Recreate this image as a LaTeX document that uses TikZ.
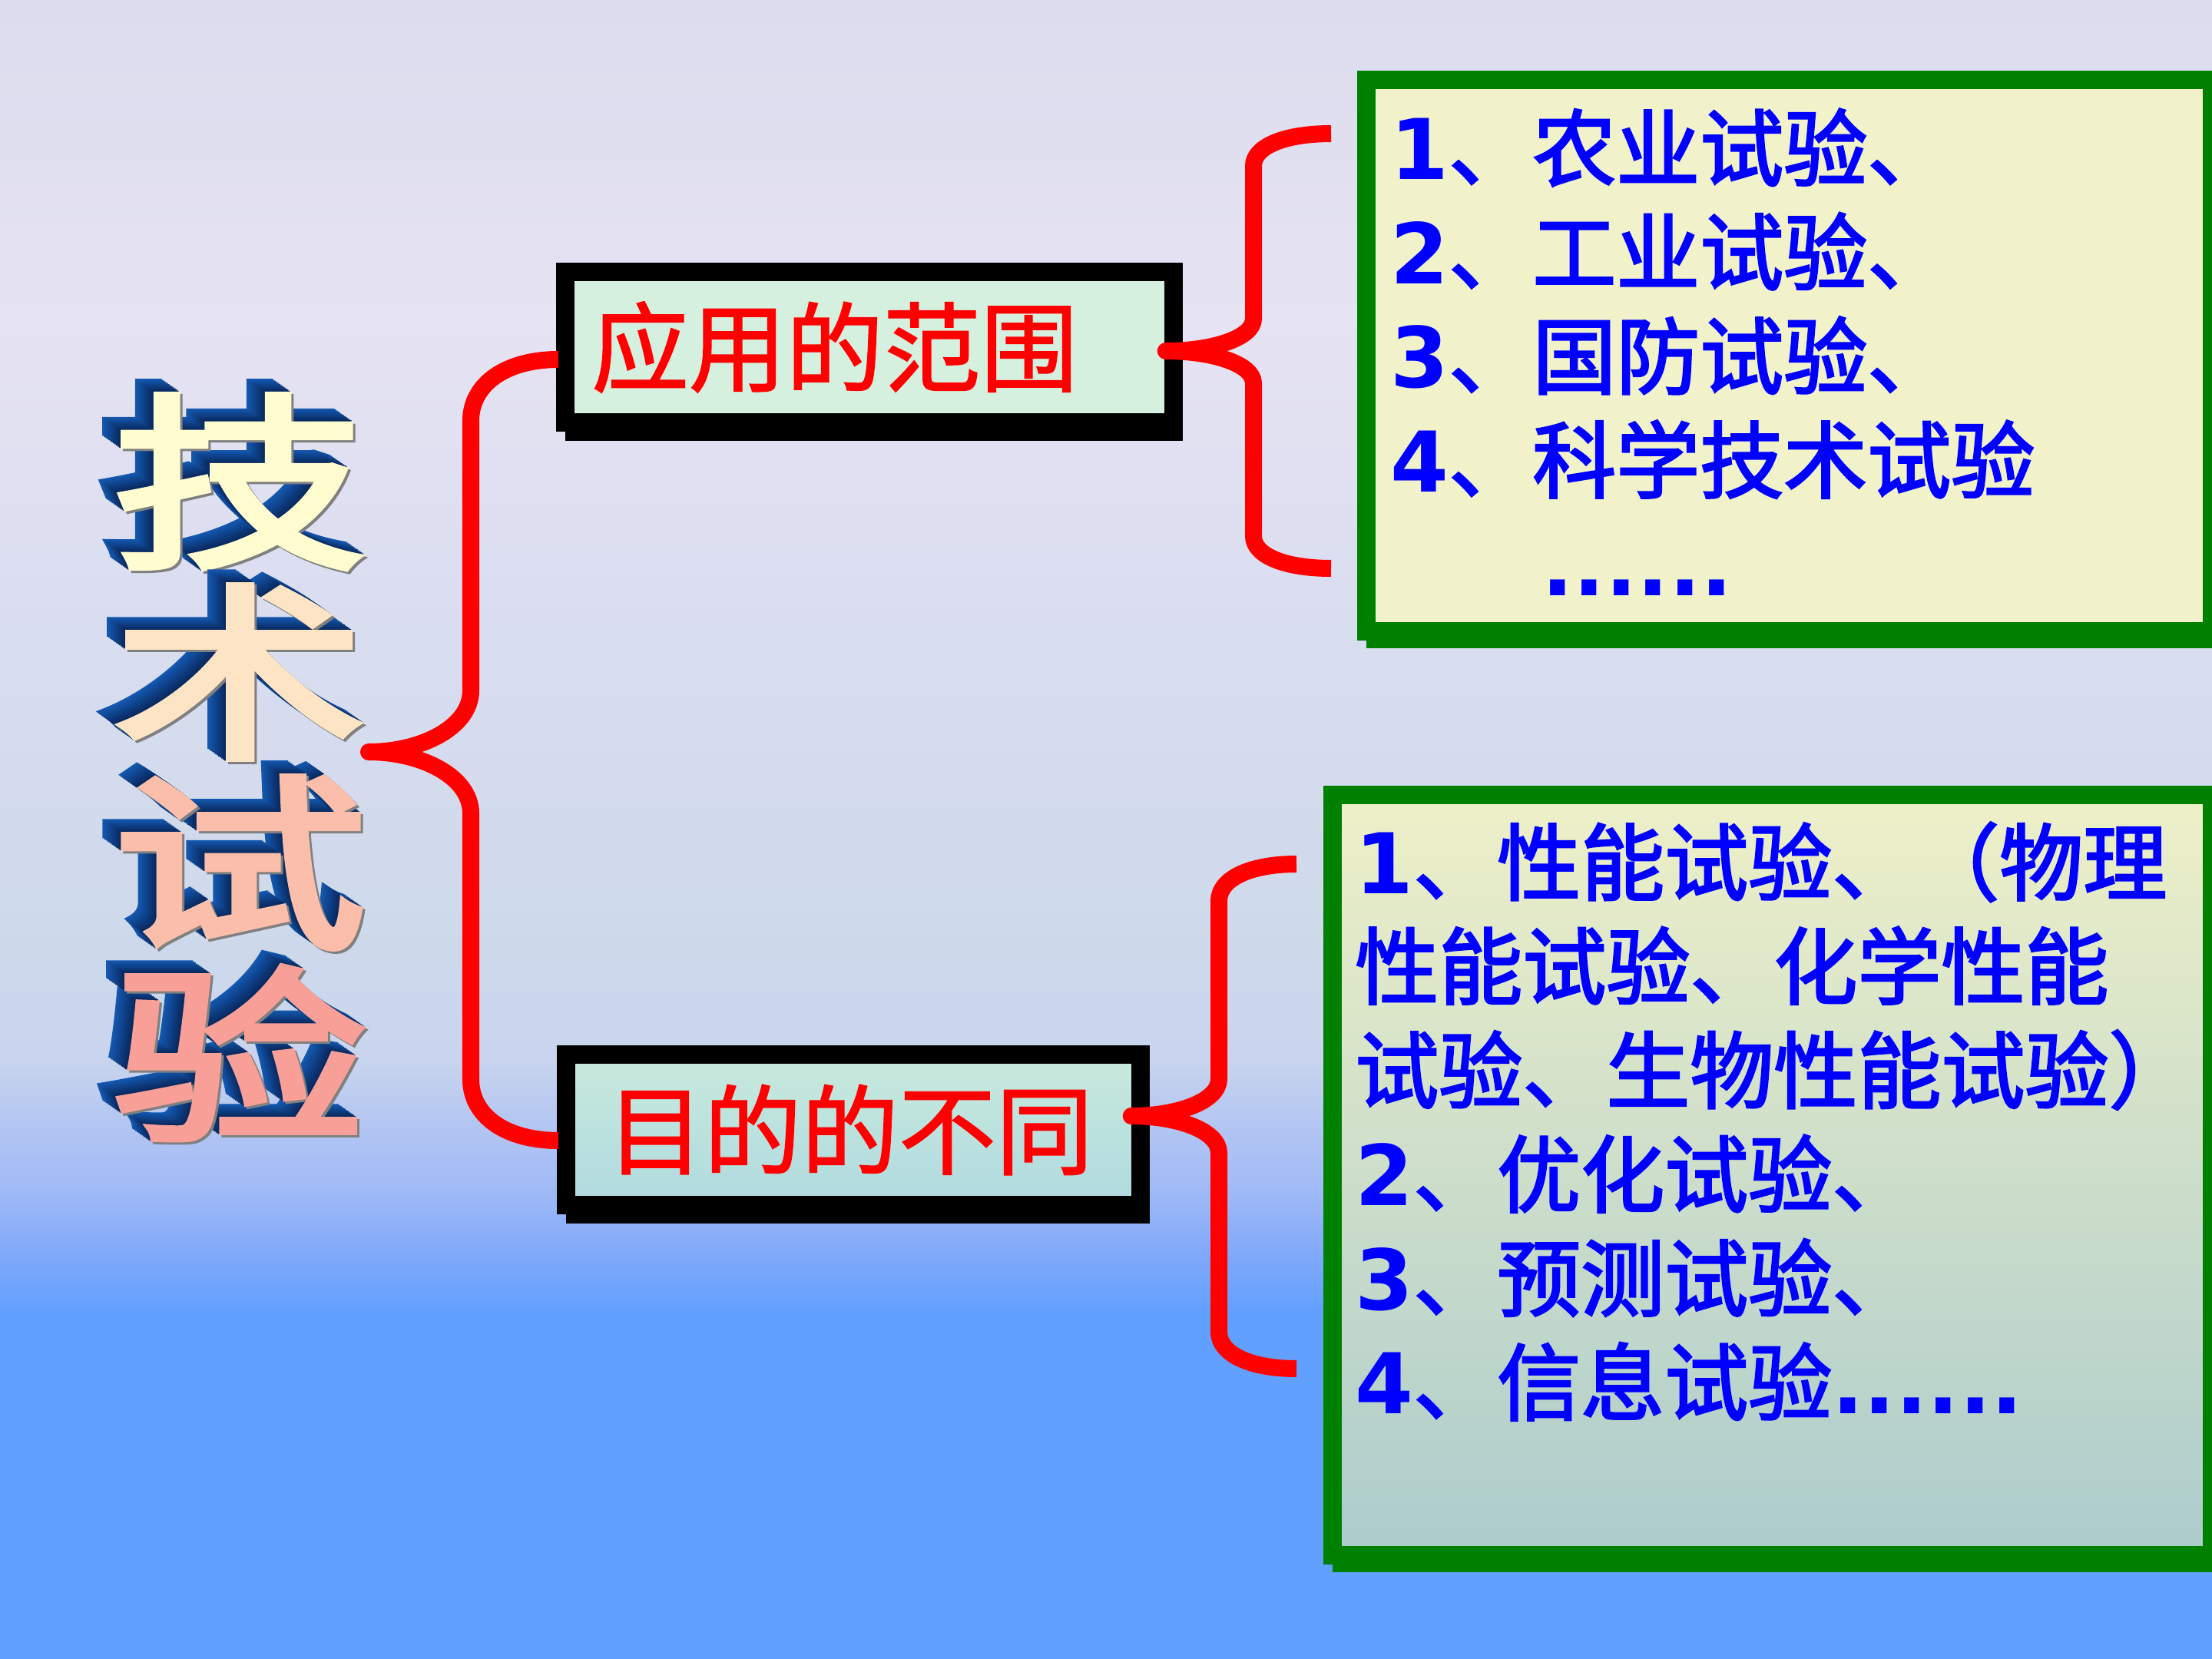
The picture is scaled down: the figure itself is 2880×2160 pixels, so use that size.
\documentclass[tikz,border=0pt]{standalone}
\usepackage{fontspec}
\setmainfont{Noto Sans CJK SC}
\newfontfamily\vbfont{DejaVu Sans}
\newfontfamily\cjkmid{Noto Sans CJK SC}[FakeBold=2.5]
\newfontfamily\cjkred{Noto Sans CJK SC}[FakeBold=1.5]
\newfontfamily\cjktitle{Noto Sans CJK SC}[FakeBold=3]
\usetikzlibrary{calc}
\definecolor{BraceRed}{RGB}{255,0,0}
\definecolor{FrameGreen}{RGB}{0,128,0}
\definecolor{ListBlue}{RGB}{0,0,255}
\definecolor{RangeFill}{RGB}{214,240,224}
\definecolor{AimTop}{RGB}{200,234,220}
\definecolor{AimBot}{RGB}{176,218,224}
\definecolor{FieldFill}{RGB}{241,241,202}
\definecolor{ListTop}{RGB}{238,240,200}
\definecolor{ListBot}{RGB}{172,204,204}
\definecolor{ExtBack}{RGB}{20,88,176}
\definecolor{ExtFront}{RGB}{8,38,90}
\definecolor{FaceOne}{RGB}{255,252,208}
\definecolor{FaceTwo}{RGB}{253,228,196}
\definecolor{FaceThree}{RGB}{250,190,170}
\definecolor{FaceFour}{RGB}{248,160,152}
\definecolor{BgTop}{RGB}{219,220,238}
\definecolor{BgA}{RGB}{230,227,243}
\definecolor{BgB}{RGB}{217,221,240}
\definecolor{BgC}{RGB}{205,217,234}
\definecolor{BgD}{RGB}{201,213,238}
\definecolor{BgE}{RGB}{180,198,242}
\definecolor{BgF}{RGB}{162,187,246}
\definecolor{BgG}{RGB}{132,170,250}
\definecolor{BgBot}{RGB}{98,160,255}
\pgfdeclareverticalshading{slidebg}{100bp}{color(0bp)=(BgBot); color(25bp)=(BgBot);
  color(35.5bp)=(BgBot); color(37.4bp)=(BgG); color(39.3bp)=(BgF); color(41.2bp)=(BgE);
  color(43.1bp)=(BgD); color(46.3bp)=(BgC); color(55.9bp)=(BgB); color(65.4bp)=(BgA);
  color(75bp)=(BgTop); color(100bp)=(BgTop)}
\pgfdeclarelayer{bg}
\pgfdeclarelayer{shade}
\pgfsetlayers{bg,shade,main}
\newcommand{\nb}[1]{{\vbfont\bfseries #1}}
% one title letter: blue extrusion, grey edge, coloured face
\newcommand{\extruded}[2]{%
  \foreach \k in {12,...,1}{%
    \pgfmathtruncatemacro\mix{100*\k/12}%
    \makebox[0pt][l]{\kern-\k\dimexpr0.02cm\relax\smash{\raisebox{\k\dimexpr0.014cm\relax}{%
      \color{ExtBack!\mix!ExtFront}\scalebox{1.35}[1]{#1}}}}}%
  \makebox[0pt][l]{\kern0.03cm\smash{\raisebox{-0.03cm}{\color{gray}\scalebox{1.35}[1]{#1}}}}%
  {\color{#2}\scalebox{1.35}[1]{#1}}}
% curly brace: top end, tip, bottom end, arm length, bend height
\newcommand{\drawbrace}[5]{%
  \draw[brace] (#1) .. controls +(-0.6*#4,0) and +(0,-0.6*#5) .. ++(-#4,#5) coordinate (v)
    -- ($(v |- #2)+(0,-#5)$) .. controls +(0,0.6*#5) and +(0.6*#4,0) .. (#2)
    .. controls +(0.6*#4,0) and +(0,-0.6*#5) .. ($(v |- #2)+(0,#5)$)
    -- ($(v |- #3)+(0,-#5)$) .. controls +(0,0.6*#5) and +(-0.6*#4,0) .. (#3);}

\begin{document}
\begin{tikzpicture}[
  x=0.01cm, y=-0.01cm,
  brace/.style={draw=BraceRed, line width=0.22cm, line join=round},
  redbox/.style={draw=black, line width=0.24cm, minimum height=1.96cm, inner ysep=0pt,
    align=left, text=BraceRed, font=\fontsize{36}{40}\selectfont\cjkred},
  listbox/.style={draw=FrameGreen, line width=0.24cm},
  listtext/.style={anchor=north west, inner sep=0pt, align=left, text=ListBlue,
    font=\fontsize{31}{38.5}\selectfont\cjkmid},
  titlech/.style={inner sep=0pt, font=\fontsize{70}{70}\selectfont\cjktitle}
]
  \useasboundingbox (0,0) rectangle (2880,2160);
  \begin{pgfonlayer}{bg}
    \shade[shading=slidebg] (0,0) rectangle (2880,2160);
  \end{pgfonlayer}

  % title, extruded letters
  \foreach \ch/\face [count=\i] in {技/FaceOne, 术/FaceTwo, 试/FaceThree, 验/FaceFour}
    \node[titlech] (title\i) at (312, {627+248*(\i-1)}) {\extruded{\ch}{\face}};

  % middle boxes
  \node[redbox, fill=RangeFill, minimum width=7.91cm, text width=7.23cm, inner xsep=0.34cm]
    (range) at (1132,452) {应用的范围};
  \node[redbox, top color=AimTop, bottom color=AimBot, minimum width=7.47cm, text width=6.41cm,
    inner xsep=0.53cm] (aim) at (1111,1471) {目的的不同};

  % right boxes
  \node[listbox, fill=FieldFill, minimum width=11.01cm, minimum height=7.18cm] (fields) at (2329.5,463) {};
  \node[listbox, top color=ListTop, bottom color=ListBot, minimum width=11.45cm, minimum height=9.9cm]
    (aims) at (2307.5,1530) {};
  \node[listtext] (fieldlist) at ($(fields.north west)+(43,49)$)
    {\nb{1}、农业试验、\\ \nb{2}、工业试验、\\ \nb{3}、国防试验、\\ \nb{4}、科学技术试验\\
     \hspace*{1.97cm}\nb{......}};
  \node[listtext] (aimlist) at ($(aims.north west)+(41,47)$)
    {\nb{1}、性能试验、（物理\\ 性能试验、化学性能\\ 试验、生物性能试验）\\
     \nb{2}、优化试验、\\ \nb{3}、预测试验、\\ \nb{4}、信息试验\nb{......}};

  \begin{pgfonlayer}{shade}
    \fill[black] ($(range.north west)+(12,12)$) rectangle ($(range.south east)+(0,12)$);
    \fill[black] ($(aim.north west)+(12,12)$) rectangle ($(aim.south east)+(0,12)$);
    \fill[FrameGreen] ($(fields.north west)+(12,10)$) rectangle ($(fields.south east)+(0,10)$);
    \fill[FrameGreen] ($(aims.north west)+(12,10)$) rectangle ($(aims.south east)+(0,10)$);
  \end{pgfonlayer}

  % braces
  \coordinate (b1top) at (727,468);
  \coordinate (b1tip) at (480,979);
  \coordinate (b1bot) at (727,1485);
  \coordinate (b2top) at (1733,174);
  \coordinate (b2tip) at ($(range.east)+(-22,5)$);
  \coordinate (b2bot) at (1733,740);
  \coordinate (b3top) at (1688,1125);
  \coordinate (b3tip) at ($(aim.east)+(-24,-18)$);
  \coordinate (b3bot) at (1688,1782);
  \drawbrace{b1top}{b1tip}{b1bot}{114}{80}
  \drawbrace{b2top}{b2tip}{b2bot}{101}{42}
  \drawbrace{b3top}{b3tip}{b3bot}{101}{48}
\end{tikzpicture}
\end{document}
